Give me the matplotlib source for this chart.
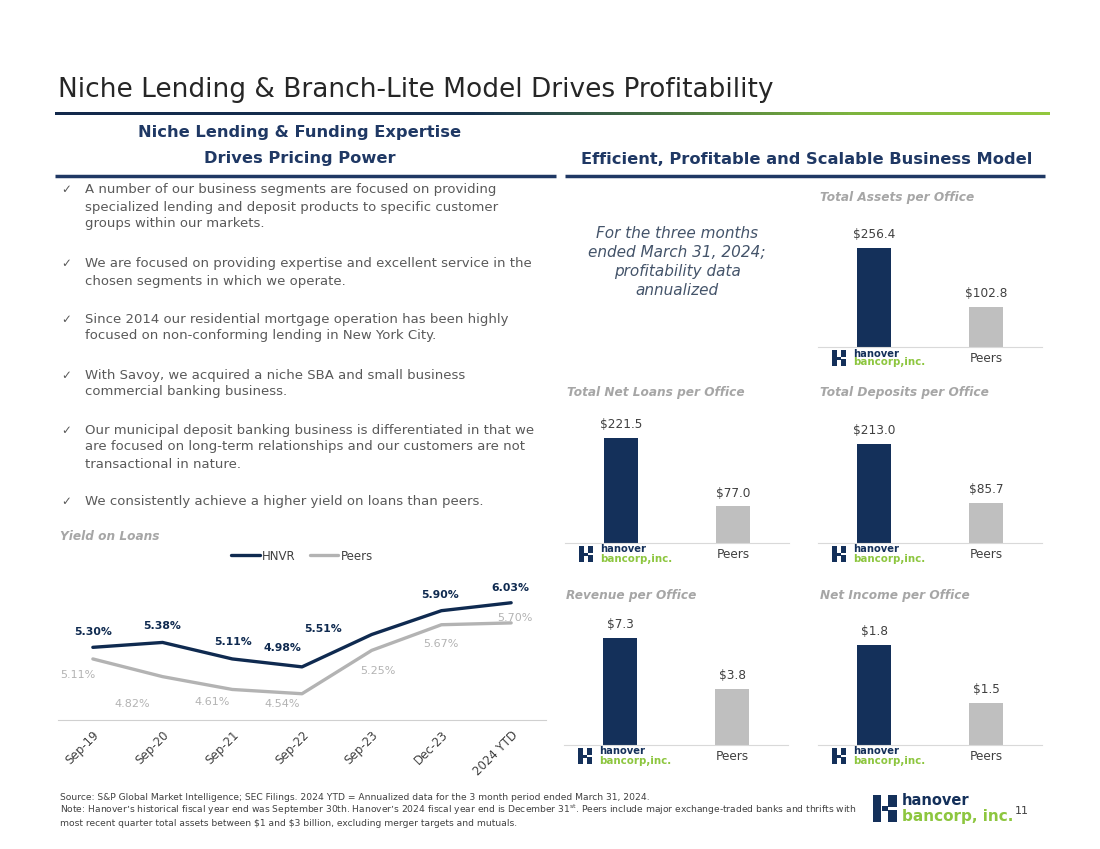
import matplotlib
matplotlib.use("Agg")
import matplotlib.pyplot as plt
import numpy as np
from matplotlib import font_manager
from matplotlib.colors import LinearSegmentedColormap
from matplotlib.lines import Line2D
from matplotlib.patches import Rectangle

# ---- data ----
periods = ["Sep-19", "Sep-20", "Sep-21", "Sep-22", "Sep-23", "Dec-23", "2024 YTD"]
hnvr_yield = [5.30, 5.38, 5.11, 4.98, 5.51, 5.90, 6.03]
peer_yield = [5.11, 4.82, 4.61, 4.54, 5.25, 5.67, 5.70]

bar_groups = ["Hanover", "Peers"]
assets_per_office = [256.4, 102.8]
loans_per_office = [221.5, 77.0]
deposits_per_office = [213.0, 85.7]
revenue_per_office = [7.3, 3.8]
income_per_office = [1.8, 1.5]

bullets = [
    ["A number of our business segments are focused on providing",
     "specialized lending and deposit products to specific customer",
     "groups within our markets."],
    ["We are focused on providing expertise and excellent service in the",
     "chosen segments in which we operate."],
    ["Since 2014 our residential mortgage operation has been highly",
     "focused on non-conforming lending in New York City."],
    ["With Savoy, we acquired a niche SBA and small business",
     "commercial banking business."],
    ["Our municipal deposit banking business is differentiated in that we",
     "are focused on long-term relationships and our customers are not",
     "transactional in nature."],
    ["We consistently achieve a higher yield on loans than peers."],
]

# ---- style ----
NAVY = "#14305a"
HEAD = "#1f3864"
GREEN = "#8dc63f"
BARGRAY = "#bfbfbf"
LINEGRAY = "#b3b3b3"
TEXT = "#404040"
BODY = "#595959"
SUB = "#a6a6a6"

names = {f.name for f in font_manager.fontManager.ttflist}
narrow_ok = "Liberation Sans Narrow" in names
NARROW = ["Liberation Sans Narrow", "DejaVu Sans"] if narrow_ok else ["DejaVu Sans"]

W, H = 1100, 849
fig = plt.figure(figsize=(11, 8.49), dpi=100)


def fx(x):
    return x / W


def fy(y):
    return 1 - y / H


def txt(x, y, s, **kw):
    kw.setdefault("va", "center")
    return fig.text(fx(x), fy(y), s, **kw)


def hline(x0, x1, y, color, lw):
    fig.add_artist(Line2D([fx(x0), fx(x1)], [fy(y), fy(y)], color=color, lw=lw,
                          transform=fig.transFigure, solid_capstyle="butt"))


def logo(x, y, s, gap, fs1, fs2):
    # simple version of the hanover mark
    parts = [(0, 0, 5, 16), (5, 6.5, 4, 3), (9, 0, 5, 7), (9, 9, 5, 7)]
    for px, py, pw, ph in parts:
        fig.add_artist(Rectangle((fx(x + px * s), fy(y + (py + ph) * s)), pw * s / W, ph * s / H,
                                 color=NAVY, lw=0, transform=fig.transFigure))
    txt(x + gap, y + 3.5 * s, "hanover", fontsize=fs1, weight="bold", color=NAVY, family=NARROW)
    txt(x + gap, y + 12.5 * s, "bancorp, inc." if s > 1.2 else "bancorp,inc.", fontsize=fs2,
        weight="bold", color=GREEN, family=NARROW)


# ---- title & header bars ----
txt(58, 90, "Niche Lending & Branch-Lite Model Drives Profitability",
    fontsize=21 if narrow_ok else 19, color="#262626", family=NARROW)

cmap = LinearSegmentedColormap.from_list(
    "bar", [(0, "#13294b"), (0.42, "#16304f"), (0.62, "#4a7640"), (0.8, "#7db43f"), (1, "#93c83e")])
ax_g = fig.add_axes([fx(55), fy(115), fx(1050) - fx(55), 3.5 / H])
ax_g.imshow(np.linspace(0, 1, 256)[None, :], aspect="auto", cmap=cmap)
ax_g.axis("off")

hfs = 13 if narrow_ok else 11.7
txt(300, 133, "Niche Lending & Funding Expertise", fontsize=hfs, weight="bold", color=HEAD,
    ha="center", family=NARROW)
txt(300, 158, "Drives Pricing Power", fontsize=hfs, weight="bold", color=HEAD, ha="center", family=NARROW)
txt(807, 159, "Efficient, Profitable and Scalable Business Model", fontsize=hfs, weight="bold",
    color=HEAD, ha="center", family=NARROW)
hline(55, 556, 176, HEAD, 2.5)
hline(565, 1045, 176, HEAD, 2.5)

# ---- bullets ----
starts = [190, 264, 319, 375, 430, 502]
for y0, lines in zip(starts, bullets):
    txt(66, y0, "\u2713", fontsize=8.5, color=BODY, ha="center")
    for i, line in enumerate(lines):
        txt(85, y0 + 17 * i, line, fontsize=9.5, color=BODY)

# ---- yield on loans line chart ----
txt(60, 537, "Yield on Loans", fontsize=8.7, weight="bold", style="italic", color=SUB)
ax = fig.add_axes([fx(58), fy(720), (546 - 58) / W, (720 - 560) / H])
x = np.arange(len(periods))
l1, = ax.plot(x, hnvr_yield, color="#0f2a50", lw=2.4, solid_capstyle="round", zorder=3)
l2, = ax.plot(x, peer_yield, color=LINEGRAY, lw=2.4, solid_capstyle="round", zorder=2)
ax.set_xlim(-0.5, len(periods) - 0.5)
ax.set_ylim(4.11, 6.73)
for sp in ["top", "right", "left"]:
    ax.spines[sp].set_visible(False)
ax.spines["bottom"].set_color("#d0d0d0")
ax.set_yticks([])
ax.set_xticks(x)
ax.set_xticklabels(periods, rotation=45, ha="right", rotation_mode="anchor", fontsize=8.5, color=TEXT)
ax.tick_params(axis="x", length=0, pad=6)

hnvr_off = [(0, 15), (0, 16), (1, 17), (-20, 19), (-49, 6), (-1, 16), (-1, 15)]
peer_off = [(-15, -16), (-30, -27), (-20, -13), (-20, -10), (6, -21), (-1, -19), (4, 5)]
for i, v in enumerate(hnvr_yield):
    ax.annotate(f"{v:.2f}%", (i, v), xytext=hnvr_off[i], textcoords="offset pixels",
                ha="center", va="center", fontsize=7.8, weight="bold", color="#0f2a50")
for i, v in enumerate(peer_yield):
    ax.annotate(f"{v:.2f}%", (i, v), xytext=peer_off[i], textcoords="offset pixels",
                ha="center", va="center", fontsize=8, color=LINEGRAY)
fig.legend([l1, l2], ["HNVR", "Peers"], loc="center", bbox_to_anchor=(fx(302), fy(556)), ncol=2,
           frameon=False, fontsize=8.5, handlelength=2.4, handletextpad=0.2, columnspacing=1.2,
           labelcolor=TEXT)

# ---- italic note ----
for i, line in enumerate(["For the three months", "ended March 31, 2024;", "profitability data", "annualized"]):
    txt(677, 233 + 19.3 * i, line, fontsize=11, style="italic", color="#44546a", ha="center")


# ---- bar panels ----
def bar_panel(left, base, values, title, ylim, fmt="${:.1f}"):
    a = fig.add_axes([fx(left), fy(base), 224 / W, 130 / H])
    a.bar(range(len(bar_groups)), values, width=0.31, color=[NAVY, BARGRAY])
    a.set_xlim(-0.5, 1.5)
    a.set_ylim(*ylim)
    for sp in ["top", "right", "left"]:
        a.spines[sp].set_visible(False)
    a.spines["bottom"].set_color("#d9d9d9")
    a.set_xticks([])
    a.set_yticks([])
    for i, v in enumerate(values):
        a.annotate(fmt.format(v), (i, v), xytext=(0, 5), textcoords="offset points",
                   ha="center", va="bottom", fontsize=8.7, color=TEXT)
    a.annotate(bar_groups[1], (1, 0), xycoords=("data", "axes fraction"), xytext=(0, -11),
               textcoords="offset pixels", ha="center", va="center", fontsize=8.7, color=TEXT)
    logo(left + 14, base + 3, 1.0, 21, 8 if narrow_ok else 7.2, 8 if narrow_ok else 7.4)
    txt(left + 2, base - 150, title, fontsize=8.7, weight="bold", style="italic", color=SUB)
    return a


bar_panel(818, 347, assets_per_office, "Total Assets per Office", (0, 337))
bar_panel(565, 543, loans_per_office, "Total Net Loans per Office", (0, 274))
bar_panel(818, 543, deposits_per_office, "Total Deposits per Office", (0, 280))
bar_panel(564, 745, revenue_per_office, "Revenue per Office", (0, 8.87))
bar_panel(818, 745, income_per_office, "Net Income per Office", (1.28, 1.954))

# ---- footer ----
ffs = 7 if narrow_ok else 6.6
txt(60, 797, "Source: S&P Global Market Intelligence; SEC Filings. 2024 YTD = Annualized data for the 3 month "
    "period ended March 31, 2024.", fontsize=ffs, color=TEXT, family=NARROW)
txt(60, 810, "Note: Hanover\u2019s historical fiscal year end was September 30th. Hanover\u2019s 2024 fiscal year end "
    "is December 31$^{\\mathrm{st}}$. Peers include major exchange-traded banks and thrifts with",
    fontsize=ffs, color=TEXT, family=NARROW)
txt(60, 823, "most recent quarter total assets between \\$1 and \\$3 billion, excluding merger targets and mutuals.",
    fontsize=ffs, color=TEXT, family=NARROW)
logo(873, 795, 1.7, 29, 13 if narrow_ok else 10.5, 13 if narrow_ok else 11)
txt(1022, 811, "11", fontsize=8, color=TEXT, ha="center")

fig.savefig("out.png", dpi=100)
